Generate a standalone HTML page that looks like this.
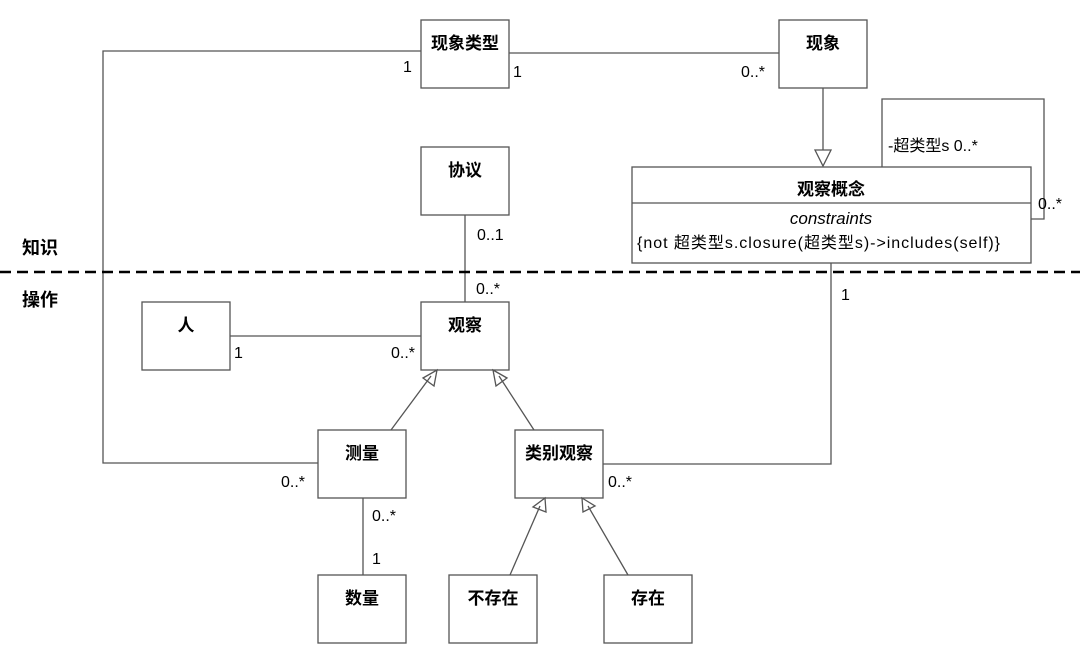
<!DOCTYPE html>
<html><head><meta charset="utf-8"><style>
html,body{margin:0;padding:0;background:#fff;}
svg text{font-family:"Liberation Sans","Noto Sans CJK SC",sans-serif;fill:#000;}
.n{font-weight:bold;font-size:17px;text-anchor:middle;}
.l{font-size:16px;}
</style></head><body>
<svg width="1080" height="659" viewBox="0 0 1080 659" xmlns="http://www.w3.org/2000/svg">
<g fill="#fff" stroke="#555" stroke-width="1.3">
<rect x="421" y="20" width="88" height="68"/>
<rect x="779" y="20" width="88" height="68"/>
<rect x="421" y="147" width="88" height="68"/>
<rect x="632" y="167" width="399" height="96"/>
<rect x="421" y="302" width="88" height="68"/>
<rect x="142" y="302" width="88" height="68"/>
<rect x="318" y="430" width="88" height="68"/>
<rect x="515" y="430" width="88" height="68"/>
<rect x="318" y="575" width="88" height="68"/>
<rect x="449" y="575" width="88" height="68"/>
<rect x="604" y="575" width="88" height="68"/>
</g>
<g fill="none" stroke="#555" stroke-width="1.3">
<line x1="632" y1="203" x2="1031" y2="203"/>
<polyline points="421,51 103,51 103,463 318,463"/>
<line x1="509" y1="53" x2="779" y2="53"/>
<line x1="823" y1="88" x2="823" y2="150"/>
<polygon points="815,150 831,150 823,166"/>
<polyline points="882,167 882,99 1044,99 1044,219 1031,219"/>
<line x1="465" y1="215" x2="465" y2="302"/>
<line x1="230" y1="336" x2="421" y2="336"/>
<polyline points="831,263 831,464 603,464"/>
<line x1="363" y1="498" x2="363" y2="575"/>
<line x1="391" y1="430" x2="431" y2="376"/>
<polygon points="437,370 434,386 423,378"/>
<line x1="534" y1="430" x2="499" y2="376"/>
<polygon points="493,370 507,378 496,386"/>
<line x1="510" y1="575" x2="540" y2="506"/>
<polygon points="545,498 546,512 533,507"/>
<line x1="628" y1="575" x2="588" y2="506"/>
<polygon points="582,498 595,506 583,512"/>
</g>
<line x1="0" y1="272" x2="1080" y2="272" stroke="#000" stroke-width="2.5" stroke-dasharray="11,6"/>
<text class="n" x="465" y="49">现象类型</text>
<text class="n" x="823" y="49">现象</text>
<text class="n" x="465" y="176">协议</text>
<text class="n" x="831" y="195">观察概念</text>
<text class="n" x="465" y="331">观察</text>
<text class="n" x="186" y="331">人</text>
<text class="n" x="362" y="459">测量</text>
<text class="n" x="559" y="459">类别观察</text>
<text class="n" x="362" y="604">数量</text>
<text class="n" x="493" y="604">不存在</text>
<text class="n" x="648" y="604">存在</text>
<text x="831" y="224" font-size="17" font-style="italic" text-anchor="middle">constraints</text>
<text x="637" y="248" font-size="16" textLength="363">{not 超类型s.closure(超类型s)-&gt;includes(self)}</text>
<text class="l" x="888" y="151">-超类型s 0..*</text>
<text class="l" x="1038" y="209">0..*</text>
<text class="l" x="403" y="72">1</text>
<text class="l" x="513" y="77">1</text>
<text class="l" x="741" y="77">0..*</text>
<text class="l" x="477" y="240">0..1</text>
<text class="l" x="476" y="294">0..*</text>
<text class="l" x="234" y="358">1</text>
<text class="l" x="391" y="358">0..*</text>
<text class="l" x="281" y="487">0..*</text>
<text class="l" x="372" y="521">0..*</text>
<text class="l" x="372" y="564">1</text>
<text class="l" x="608" y="487">0..*</text>
<text class="l" x="841" y="300">1</text>
<text x="22" y="254" font-size="18" font-weight="bold" font-family="'Noto Sans CJK SC',sans-serif">知识</text>
<text x="22" y="306" font-size="18" font-weight="bold" font-family="'Noto Sans CJK SC',sans-serif">操作</text>
</svg>
</body></html>
